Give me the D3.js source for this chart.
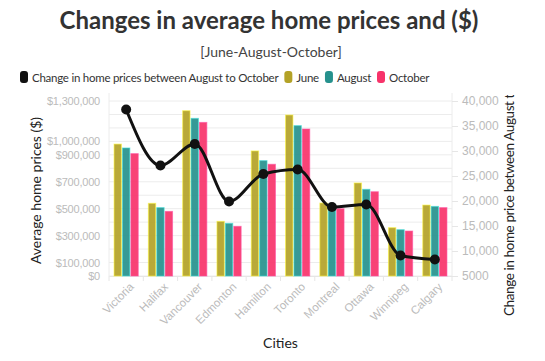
<!DOCTYPE html>
<html>
<head>
<meta charset="utf-8">
<script src="https://cdn.jsdelivr.net/npm/d3@7"></script>
<style>
  body { margin: 0; background: #fff; }
  svg { font-family: "Source Sans Pro", Lato, sans-serif; display: block; }
</style>
</head>
<body>
<svg id="chart"></svg>
<script>
// Data
const cities = ['Victoria', 'Halifax', 'Vancouver', 'Edmonton', 'Hamilton',
  'Toronto', 'Montreal', 'Ottawa', 'Winnipeg', 'Calgary'];
const series = ['June', 'August', 'October'];
const june = [980000, 540000, 1228000, 406000, 929000, 1196000, 542000, 691000, 359000, 527000];
const august = [951000, 508000, 1171000, 391000, 857000, 1117000, 515000, 644000, 344000, 517000];
const october = [909000, 480000, 1141000, 369000, 830000, 1092000, 500000, 626000, 334000, 508000];
const change = [38300, 27100, 31400, 19900, 25400, 26300, 18800, 19300, 9100, 8300];
const leftTicks = [0, 100000, 300000, 500000, 700000, 900000, 1000000, 1300000];
const rightTicks = [5000, 10000, 15000, 20000, 25000, 30000, 35000, 40000];
const colors = { June: '#b3a227', August: '#26918d', October: '#f7336a' };

const width = 545, height = 361;
const margin = { top: 101, right: 93, bottom: 85, left: 109 };

const svg = d3.select('#chart')
  .attr('width', width)
  .attr('height', height)
  .attr('viewBox', [0, 0, width, height]);

// Scales
const x0 = d3.scaleBand(cities, [margin.left, width - margin.right]).padding(0);
const x1 = d3.scaleBand(series, [0, x0.bandwidth()]).paddingInner(0.12).paddingOuter(0.6);
const yLeft = d3.scaleLinear([0, 1300000], [height - margin.bottom, margin.top]);
const yRight = d3.scaleLinear([5000, 40000], [height - margin.bottom, margin.top]);

// Gridlines
svg.append('g')
  .selectAll('line')
  .data(d3.range(0, 1300001, 100000))
  .join('line')
    .attr('x1', margin.left)
    .attr('x2', width - margin.right)
    .attr('y1', d => yLeft(d))
    .attr('y2', d => yLeft(d))
    .attr('stroke', '#ececec');

// side lines
svg.append('g')
  .selectAll('line')
  .data([margin.left, width - margin.right])
  .join('line')
    .attr('x1', d => d).attr('x2', d => d)
    .attr('y1', margin.top - 8)
    .attr('y2', height - margin.bottom)
    .attr('stroke', '#ececec');

// Left axis
const leftAxis = svg.append('g')
  .attr('transform', `translate(${margin.left},0)`)
  .call(d3.axisLeft(yLeft).tickValues(leftTicks).tickFormat(d => '$' + d3.format(',')(d)).tickSize(0).tickPadding(9));
leftAxis.select('.domain').remove();
leftAxis.selectAll('text').attr('fill', '#bbb').style('font-size', '11px').style('letter-spacing', '-0.2px');

// Right axis
const rightAxis = svg.append('g')
  .attr('transform', `translate(${width - margin.right},0)`)
  .call(d3.axisRight(yRight).tickValues(rightTicks)
    .tickFormat(d => d < 10000 ? String(d) : d3.format(',')(d)).tickSize(6).tickPadding(4));
rightAxis.select('.domain').remove();
rightAxis.selectAll('line').attr('stroke', '#e6e6e6');
rightAxis.selectAll('text').attr('fill', '#bbb').style('font-size', '12px');

// X axis
const xAxis = svg.append('g')
  .attr('transform', `translate(0,${height - margin.bottom})`)
  .call(d3.axisBottom(x0).tickSize(0).tickPadding(6));
xAxis.select('.domain').attr('stroke', '#e6e6e6');
xAxis.selectAll('text')
  .attr('fill', '#bbb')
  .style('font-size', '11.5px')
  .attr('text-anchor', 'end')
  .attr('transform', 'rotate(-45)')
  .attr('dx', '-0.2em')
  .attr('dy', '0.7em');

// band boundary ticks
svg.append('g')
  .selectAll('line')
  .data(cities.map(c => x0(c)).concat([x0.range()[1]]))
  .join('line')
    .attr('x1', d => d).attr('x2', d => d)
    .attr('y1', height - margin.bottom)
    .attr('y2', height - margin.bottom + 5)
    .attr('stroke', '#e6e6e6');

// Bars
const seriesValues = { June: june, August: august, October: october };
svg.append('g')
  .selectAll('g')
  .data(cities.map((c, i) => ({ city: c, i })))
  .join('g')
    .attr('transform', d => `translate(${x0(d.city)},0)`)
  .selectAll('rect')
  .data(d => series.map(s => ({ key: s, value: seriesValues[s][d.i] })))
  .join('rect')
    .attr('x', d => x1(d.key))
    .attr('y', d => yLeft(d.value))
    .attr('width', x1.bandwidth())
    .attr('height', d => yLeft(0) - yLeft(d.value))
    .attr('fill', d => colors[d.key])
    .attr('fill-opacity', 0.92)
    .attr('stroke', d => d3.color(colors[d.key]).brighter(1.2))
    .attr('stroke-opacity', 0.6)
    .attr('stroke-width', 1);

// Line of change between August and October
const line = d3.line()
  .x((d, i) => x0(cities[i]) + x0.bandwidth() / 2)
  .y(d => yRight(d))
  .curve(d3.curveMonotoneX);

svg.append('path')
  .datum(change)
  .attr('fill', 'none')
  .attr('stroke', '#111')
  .attr('stroke-width', 3)
  .attr('d', line);

svg.append('g')
  .selectAll('circle')
  .data(change)
  .join('circle')
    .attr('cx', (d, i) => x0(cities[i]) + x0.bandwidth() / 2)
    .attr('cy', d => yRight(d))
    .attr('r', 5)
    .attr('fill', '#111');

// Titles
svg.append('text')
  .attr('x', 269).attr('y', 29)
  .attr('text-anchor', 'middle')
  .attr('fill', '#333')
  .style('font-size', '24px')
  .style('font-weight', 'bold')
  .text('Changes in average home prices and ($)');

svg.append('text')
  .attr('x', 271).attr('y', 57)
  .attr('text-anchor', 'middle')
  .attr('fill', '#444')
  .style('font-size', '14px')
  .text('[June-August-October]');

// Axis titles
svg.append('text')
  .attr('transform', `translate(41,${(margin.top + height - margin.bottom) / 2 + 2}) rotate(-90)`)
  .attr('text-anchor', 'middle')
  .attr('fill', '#222')
  .style('font-size', '14px')
  .text('Average home prices ($)');

svg.append('clipPath')
  .attr('id', 'rclip')
  .append('rect')
    .attr('x', 490).attr('y', 95).attr('width', 50).attr('height', 260);

svg.append('g')
  .attr('clip-path', 'url(#rclip)')
  .append('text')
    .attr('transform', 'translate(514,316) rotate(-90)')
    .attr('text-anchor', 'start')
    .attr('fill', '#222')
    .style('font-size', '13.5px')
    .style('letter-spacing', '-0.4px')
    .text('Change in home price between August to October');

svg.append('text')
  .attr('x', (margin.left + width - margin.right) / 2)
  .attr('y', 348)
  .attr('text-anchor', 'middle')
  .attr('fill', '#222')
  .style('font-size', '14px')
  .text('Cities');

// Legend
const legendItems = [
  { label: 'Change in home prices between August to October', color: '#111' },
  { label: 'June', color: colors.June },
  { label: 'August', color: colors.August },
  { label: 'October', color: colors.October }
];
const legend = svg.append('g').attr('transform', 'translate(20,71)');
let lx = 0;
legendItems.forEach(item => {
  const g = legend.append('g').attr('transform', `translate(${lx},0)`);
  g.append('rect')
    .attr('width', 8).attr('height', 12).attr('rx', 3)
    .attr('fill', item.color);
  const t = g.append('text')
    .attr('x', 12).attr('y', 10.5)
    .attr('fill', '#333')
    .style('font-size', '11.5px')
    .style('letter-spacing', '-0.25px')
    .text(item.label);
  lx += 12 + t.node().getComputedTextLength() + 6;
});
</script>
</body>
</html>
